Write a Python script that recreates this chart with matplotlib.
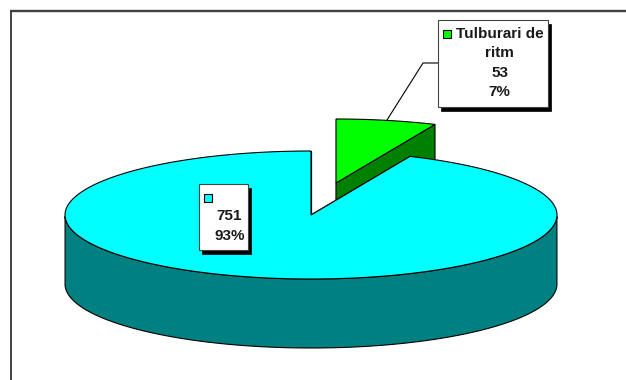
import numpy as np
from matplotlib import pyplot as plt
from matplotlib.patches import Polygon, Rectangle

# slice values, the first one is drawn pulled out of the pie
labels = ["Tulburari de\nritm", ""]
values = [53, 751]
percents = ["7%", "93%"]

top_colors = ["#00ff00", "#00ffff"]
side_colors = ["#008000", "#008080"]

W, H = 626, 380
CX, CY = 311, 215  # pie centre in pixels
RX, RY = 246, 64
DEPTH = 69
EXPLODE = (25, -32)

plt.rcParams["font.family"] = ["Liberation Sans", "DejaVu Sans"]

fig = plt.figure(figsize=(W / 100, H / 100), dpi=100)
ax = fig.add_axes([0, 0, 1, 1])
ax.set_xlim(0, W)
ax.set_ylim(H, 0)
ax.axis("off")


def rim(start, end, cx, cy):
    # ellipse points, angles run clockwise from twelve o'clock
    t = np.radians(np.linspace(start, end, 200))
    return np.column_stack([cx + RX * np.sin(t), cy - RY * np.cos(t)])


def draw_slice(start, end, offset, top, side, z):
    cx, cy = CX + offset[0], CY + offset[1]
    arc = rim(start, end, cx, cy)
    centre = np.array([[cx, cy]])
    down = np.array([0, DEPTH])

    # inner cut faces first, the top goes over them
    for edge in (arc[0], arc[-1]):
        face = np.array([centre[0], edge, edge + down, centre[0] + down])
        ax.add_patch(Polygon(face, fc=side, ec="black", lw=0.8, zorder=z))

    # outer wall, only the part that faces the viewer
    t = np.radians(np.linspace(start, end, 200))
    front = arc[np.cos(t) <= 0]
    if len(front):
        wall = np.vstack([front, (front + down)[::-1]])
        ax.add_patch(Polygon(wall, fc=side, ec="black", lw=0.8, zorder=z))

    outline = np.vstack([centre, arc])
    ax.add_patch(Polygon(outline, fc=top, ec="black", lw=0.8, zorder=z + 0.5))


def data_label(x, y, w, h, swatch, lines, text_x):
    # white box with a hard black drop shadow and a colour key
    ax.add_patch(Rectangle((x + 3, y + 3.5), w, h, fc="black", ec="black", lw=0.5, zorder=5))
    ax.add_patch(Rectangle((x, y), w, h, fc="white", ec="#444444", lw=0.8, zorder=6))
    ax.add_patch(Rectangle((x + 5, y + 10), 8, 8, fc=swatch, ec="black", lw=0.8, zorder=7))
    for text, ty in lines:
        ax.text(text_x, y + ty, text, ha="center", va="center", fontsize=11,
                fontweight="bold", color="#1a1a1a", zorder=7)


sweep = 360 * values[0] / sum(values)

# frame around the chart area, open on the right
ax.plot([10.7, 10.7], [H, 10], color="#222222", lw=1.2, solid_capstyle="butt")
ax.plot([10, W], [11.2, 11.2], color="#404040", lw=1.7, solid_capstyle="butt")

draw_slice(0, sweep, EXPLODE, top_colors[0], side_colors[0], 1)
draw_slice(sweep, 360, (0, 0), top_colors[1], side_colors[1], 2)

# leader line to the label of the small slice
ax.plot([387, 423, 438], [120, 63, 63], color="black", lw=0.8, zorder=4)

data_label(438, 20, 110, 87, top_colors[0], [
    (labels[0].split("\n")[0], 14),
    (labels[0].split("\n")[1], 33),
    (str(values[0]), 53),
    (percents[0], 72),
], 499.5)
data_label(198.5, 184, 49.5, 66, top_colors[1], [
    (str(values[1]), 32),
    (percents[1], 52.5),
], 229.5)

fig.savefig("out.png", dpi=100)
